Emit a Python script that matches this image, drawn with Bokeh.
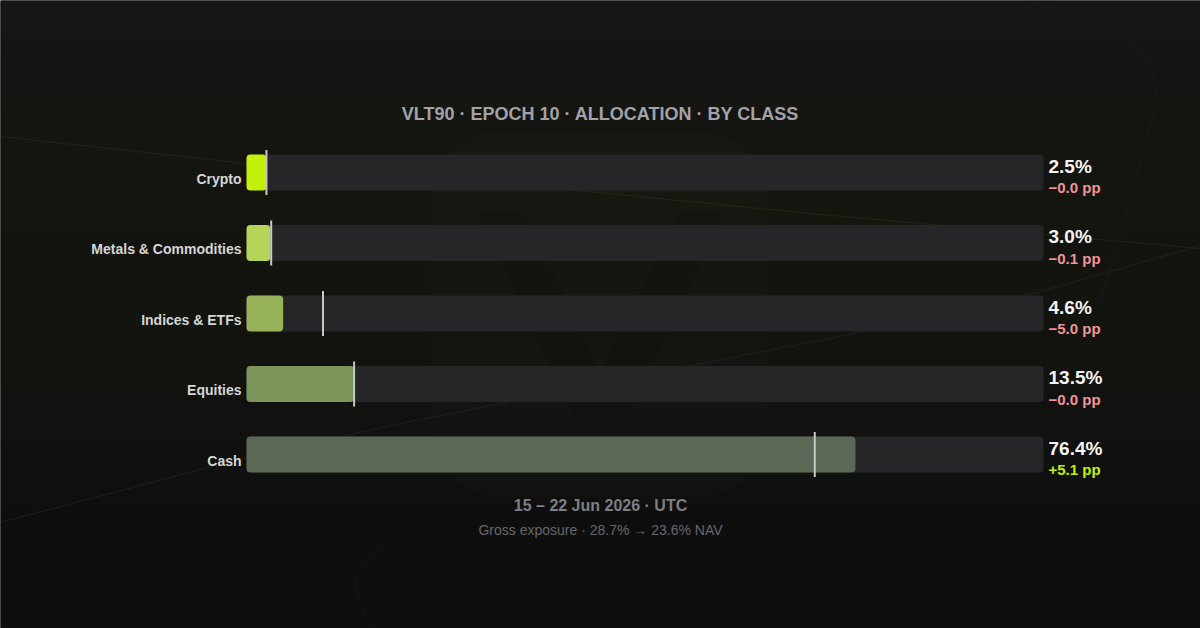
from bokeh.plotting import figure
from bokeh.models import Range1d, ColumnDataSource
from bokeh.embed import file_html
from bokeh.resources import INLINE
from bokeh.core.properties import value

# ---------------- data ----------------
categories = ["Crypto", "Metals & Commodities", "Indices & ETFs", "Equities", "Cash"]
current_pct = [2.5, 3.0, 4.6, 13.5, 76.4]
previous_pct = [2.5, 3.1, 9.6, 13.5, 71.3]
delta_pp = [-0.0, -0.1, -5.0, -0.0, 5.1]
bar_colors = ["#c2f00b", "#b5d55a", "#98b25a", "#7b955b", "#5b6855"]

title_text = "VLT90 · EPOCH 10 · ALLOCATION · BY CLASS"
date_text = "15 – 22 Jun 2026 · UTC"
gross_text = "Gross exposure · 28.7% → 23.6% NAV"

# ---------------- layout helpers ----------------
W, H = 1200, 628
PX_PER_PCT = 7.97          # 100 % spans 797 px
X0_PAGE = 246              # page x of 0 %
def X(page_x):
    return (page_x - X0_PAGE) / PX_PER_PCT

x_start = X(0)
x_end = X(W)

row0, row_step, bar_h = 172, 70.5, 36
rows = [row0 + i * row_step for i in range(len(categories))]

p = figure(width=W, height=H, output_backend="svg", toolbar_location=None,
           x_range=Range1d(x_start, x_end), y_range=Range1d(H, 0),
           min_border=0, min_border_left=0, min_border_right=0,
           min_border_top=0, min_border_bottom=0)
p.axis.visible = False
p.grid.visible = False
p.outline_line_color = None
p.background_fill_color = "#141412"
p.border_fill_color = "#141412"

# ---------------- background gradient ----------------
stops = [(-4, (22, 22, 22)), (150, (20, 21, 16)), (300, (19, 20, 14)),
         (420, (17, 18, 16)), (520, (14, 14, 14)), (640, (14, 14, 14))]
def col_at(y):
    for (ya, ca), (yb, cb) in zip(stops[:-1], stops[1:]):
        if ya <= y <= yb:
            t = (y - ya) / (yb - ya)
            c = [round(a + (b - a) * t) for a, b in zip(ca, cb)]
            return "#%02x%02x%02x" % tuple(c)
    return "#0e0e0e"
band = 8
tops = list(range(-4, H + 4, band))
p.quad(left=X(-4), right=X(W + 4), top=tops, bottom=[t + band + 1 for t in tops],
       color=[col_at(t + band / 2) for t in tops], line_color=None)

# watermark (rounded panel + V)
p.quad(left=X(430), right=X(767), top=130, bottom=497, fill_color="#ffffff",
       fill_alpha=0.012, line_color=None, border_radius=70)
p.patch(x=[X(477), X(523), X(600), X(677), X(723), X(628), X(573)],
        y=[213, 213, 370, 213, 213, 415, 415], fill_color="#000000",
        fill_alpha=0.07, line_color=None)

# faint decorative lines
p.line(x=[X(v) for v in [0, 245, 587, 820, 1200]], y=[136, 163, 191, 214, 248],
       line_color="#2a2e12", line_alpha=0.7, line_width=1)
p.line(x=[X(v) for v in [0, 245, 400, 690, 820, 1033, 1200]],
       y=[522, 457, 423, 365, 340, 293, 245],
       line_color="#2a2a2a", line_alpha=0.6, line_width=1)
p.line(x=[X(v) for v in [1030, 1110, 1150, 1157, 1140, 1127, 1100]],
       y=[0, 25, 60, 100, 160, 210, 300],
       line_color="#202020", line_alpha=0.5, line_width=1)
p.line(x=[X(v) for v in [400, 370, 355, 360, 372]], y=[533, 555, 580, 605, 628],
       line_color="#1c1c1c", line_alpha=0.5, line_width=1)

# ---------------- bars ----------------
src = ColumnDataSource(dict(
    y=rows, cur=current_pct, prev=previous_pct, color=bar_colors,
    full=[100] * len(rows), zero=[0] * len(rows),
    m_top=[r - 22.5 for r in rows], m_bot=[r + 22.5 for r in rows],
))
p.hbar(y="y", left="zero", right="full", height=bar_h, source=src,
       fill_color="#262629", line_color=None, border_radius=4)
p.hbar(y="y", left="zero", right="cur", height=bar_h, source=src,
       fill_color="color", line_color=None, border_radius=4)
p.segment(x0="prev", x1="prev", y0="m_top", y1="m_bot", source=src,
          line_color="#c8c8c8", line_width=2)

# ---------------- texts ----------------
font = value("Liberation Sans")

lab_src = ColumnDataSource(dict(x=[X(241)] * len(rows), y=[r + 6 for r in rows],
                                text=categories))
p.text(x="x", y="y", text="text", source=lab_src, text_align="right",
       text_baseline="middle", text_font=font, text_font_style="bold",
       text_font_size="14px", text_color="#d6d6d6")

val_src = ColumnDataSource(dict(x=[X(1048)] * len(rows), y=[r - 6.5 for r in rows],
                                text=["%.1f%%" % v for v in current_pct]))
p.text(x="x", y="y", text="text", source=val_src, text_align="left",
       text_baseline="middle", text_font=font, text_font_style="bold",
       text_font_size="19px", text_color="#f4f4f4")

def fmt_delta(d):
    neg = d < 0 or (d == 0 and str(d).startswith("-"))
    return ("\u2212" if neg else "+") + "%.1f pp" % abs(d)
delta_src = ColumnDataSource(dict(
    x=[X(1048)] * len(rows), y=[r + 15 for r in rows],
    text=[fmt_delta(d) for d in delta_pp],
    color=["#c3f00a" if d > 0 else "#f0939b" for d in delta_pp]))
p.text(x="x", y="y", text="text", source=delta_src, text_align="left",
       text_baseline="middle", text_font=font, text_font_style="bold",
       text_font_size="15px", text_color="color")

p.text(x=[X(600)], y=[113.5], text=[title_text], text_align="center",
       text_baseline="middle", text_font=font, text_font_style="bold",
       text_font_size="18px", text_color="#a2a2a8")
p.text(x=[X(600)], y=[505], text=[date_text], text_align="center",
       text_baseline="middle", text_font=font, text_font_style="bold",
       text_font_size="16px", text_color="#7e7e84")
p.text(x=[X(600)], y=[529], text=[gross_text], text_align="center",
       text_baseline="middle", text_font=font, text_font_style="normal",
       text_font_size="14px", text_color="#66666c")

open("out.html", "w").write(file_html(p, INLINE))
